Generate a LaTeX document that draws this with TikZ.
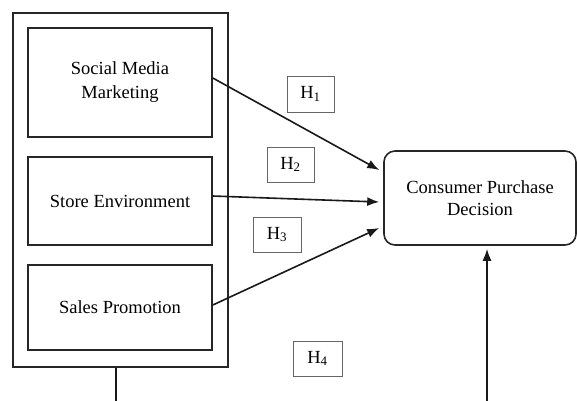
\documentclass[tikz,border=0pt]{standalone}
\usepackage{fontspec}
\setmainfont{Liberation Serif}
\usetikzlibrary{arrows.meta,calc}
\begin{document}
\begin{tikzpicture}[x=1pt,y=-1pt,
  box/.style={draw=black!85,line width=1.6pt,align=center,inner sep=0pt,
    font=\fontsize{18.5}{24}\selectfont},
  hbox/.style={draw=black!60,line width=0.9pt,inner sep=0pt,
    font=\fontsize{18.5}{22}\selectfont},
  conn/.style={line width=1.6pt,draw=black!90,-{Latex[length=12pt,width=9pt]}},
  plain/.style={line width=1.6pt,draw=black!90}]
\useasboundingbox (0,0) rectangle (577,400);
\node[box,line width=2pt,minimum width=215pt,minimum height=354pt] (outer) at (120.5,190) {};
\node[box,minimum width=184pt,minimum height=109pt] (smm) at (120,82.5) {Social Media\\Marketing};
\node[box,minimum width=184pt,minimum height=88pt] (se) at (120,201) {Store Environment};
\node[box,minimum width=184pt,minimum height=85pt] (sp) at (120,307.5) {Sales Promotion};
\node[box,rounded corners=11pt,minimum width=192pt,minimum height=94pt,
  font=\fontsize{18.5}{22}\selectfont] (cpd) at (480,198) {Consumer Purchase\\Decision};
\node[hbox,minimum width=47pt,minimum height=36pt] (h1) at (310.5,94) {H\textsubscript{1}};
\node[hbox,minimum width=47pt,minimum height=35pt] (h2) at (290.5,164.5) {H\textsubscript{2}};
\node[hbox,minimum width=48pt,minimum height=35pt] (h3) at (277,234.5) {H\textsubscript{3}};
\node[hbox,minimum width=49pt,minimum height=35pt] (h4) at (317.5,358.5) {H\textsubscript{4}};
\draw[conn] ($(smm.east)+(0,-4.5)$) -- ($(cpd.west)+(-4,-28)$);
\draw[conn] ($(se.east)+(0,-5)$) -- ($(cpd.west)+(-4,4)$);
\draw[conn] ($(sp.east)+(0,-2.5)$) -- ($(cpd.west)+(-4,30)$);
\coordinate (bl) at (116,401);
\coordinate (br) at (487,401);
\draw[plain] (outer.south -| bl) -- (bl);
\draw[conn] (br) -- ($(br |- cpd.south)+(0,3)$);
\end{tikzpicture}
\end{document}
